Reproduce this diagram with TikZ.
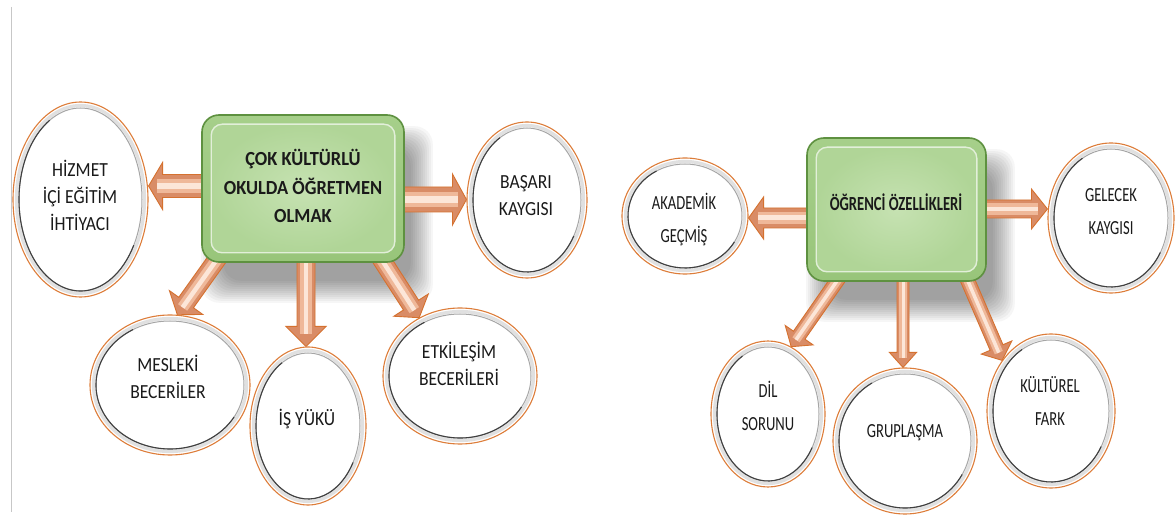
\documentclass[tikz,border=0pt]{standalone}
\usepackage{fontspec}
\newfontfamily\leftfont[FakeStretch=0.88]{Carlito}
\newfontfamily\leftboldfont[FakeStretch=0.92]{Carlito}
\newfontfamily\rightfont[FakeStretch=0.73]{Carlito}
\usetikzlibrary{calc,shapes.geometric}

\definecolor{bubbleedge}{HTML}{DD7D3A}
\definecolor{boxedge}{HTML}{5E9140}
\definecolor{boxtop}{HTML}{A6CF8A}
\definecolor{boxbottom}{HTML}{98C57A}
\definecolor{boxrim}{HTML}{E2EFD9}
\definecolor{boxin}{HTML}{C6E2B2}
\definecolor{boxout}{HTML}{B0D597}
\definecolor{arrowfill}{HTML}{D98C66}
\definecolor{arrowedge}{HTML}{D5712F}
\definecolor{arrowmid}{HTML}{EFB899}
\definecolor{arrowshine}{HTML}{FCE6D8}
\definecolor{inktext}{HTML}{1A1A1A}

\pgfdeclarelayer{paperlayer}
\pgfdeclarelayer{shadowlayer}
\pgfdeclarelayer{arrowlayer}
\pgfsetlayers{paperlayer,shadowlayer,arrowlayer,main}

\tikzset{
  bubble/.style={ellipse, draw=bubbleedge, line width=1.1pt, fill=white, inner sep=0pt},
  ringband/.style={draw=black!12, line width=3.2pt},
  ringlight/.style={draw=black!35, line width=1pt},
  ringdark/.style={draw=black!75, line width=1.1pt},
  boxouter/.style={rectangle, rounded corners=17pt, draw=boxedge, line width=1.6pt,
    top color=boxtop, bottom color=boxbottom, inner sep=0pt},
  boxface/.style={rounded corners=11pt, draw=boxrim, line width=1.4pt,
    inner color=boxin, outer color=boxout},
  shadowstep/.style={fill=black, fill opacity=0.035, rounded corners=18pt},
  arrowbody/.style={fill=arrowfill, draw=arrowedge, line width=0.9pt, line join=miter},
  ltxt/.style={align=center, text=inktext, inner sep=0pt,
    font=\leftfont\fontsize{20}{27}\selectfont},
  lbold/.style={align=center, text=inktext, inner sep=0pt,
    font=\leftboldfont\bfseries\fontsize{20}{28.5}\selectfont},
  rtxt/.style={align=center, text=inktext, inner sep=0pt,
    font=\rightfont\fontsize{20}{33}\selectfont},
  rbold/.style={align=center, text=inktext, inner sep=0pt,
    font=\rightfont\bfseries\fontsize{20}{33}\selectfont},
}

% soft drop shadow under a box: stacked translucent rounded rectangles
\newcommand\softshadow[1]{%
  \begin{pgfonlayer}{shadowlayer}
    \foreach \e in {14,12,...,-8}{%
      \path[shadowstep] ($(#1.south west)+(14-\e,26+\e)$) rectangle ($(#1.north east)+(14+\e,26-\e)$);
    }
  \end{pgfonlayer}
}

% oval with a bevelled grey ring inside its orange rim
\newcommand\bubble[5]{%
  \pgfmathsetmacro\bbW{2*#4}\pgfmathsetmacro\bbH{2*#5}%
  \node[bubble, minimum width=\bbW pt, minimum height=\bbH pt] (#1) at (#2,#3) {};
  \pgfmathsetmacro\bbA{#4-3.5}\pgfmathsetmacro\bbB{#5-3.5}%
  \draw[ringband] (#1.center) ellipse [x radius=\bbA pt, y radius=\bbB pt];
  \pgfmathsetmacro\bbC{#4-6}\pgfmathsetmacro\bbD{#5-6}%
  \draw[ringlight] (#1.center) ellipse [x radius=\bbC pt, y radius=\bbD pt];
  \draw[ringdark] (#1.center) ++(120:\bbC pt and \bbD pt)
    arc [start angle=120, end angle=330, x radius=\bbC pt, y radius=\bbD pt];
}

% block arrow: start, tip, shaft half width, head half width, head length
\newcommand\blockarrow[5]{%
  \coordinate (ba-b) at ($(#2)!#5pt!(#1)$);
  \coordinate (ba-m) at ($(ba-b)!0.4!(#2)$);
  \path[arrowbody] ($(#1)!#3pt!90:(#2)$) -- ($(ba-b)!#3pt!90:(#2)$)
    -- ($(ba-b)!#4pt!90:(#2)$) -- (#2) -- ($(ba-b)!#4pt!-90:(#2)$)
    -- ($(ba-b)!#3pt!-90:(#2)$) -- ($(#1)!#3pt!-90:(#2)$) -- cycle;
  \pgfmathsetmacro\baWa{1.25*#3}\pgfmathsetmacro\baWb{0.5*#3}%
  \draw[arrowmid, line width=\baWa pt] (#1) -- (ba-m);
  \draw[arrowshine, line width=\baWb pt] (#1) -- (ba-m);
}

\begin{document}
\begin{tikzpicture}[x=1pt, y=-1pt]
\useasboundingbox (0,0) rectangle (1176,526);
\begin{pgfonlayer}{paperlayer}
  \fill[white] (0,0) rectangle (1176,526);
\end{pgfonlayer}
\draw[black!22, line width=1pt] (11,7) -- (11,512);

% ---- first cluster ----
\node[boxouter, minimum width=202pt, minimum height=147pt] (lbox) at (303,188.5) {};
\softshadow{lbox}
\path[boxface] ($(lbox.south west)+(10,-10)$) rectangle ($(lbox.north east)+(-10,10)$);
\node[lbold] (lbox-t) at (303,186) {ÇOK KÜLTÜRLÜ\\OKULDA ÖĞRETMEN\\OLMAK};

\bubble{hizmet}{80.5}{199.5}{67.5}{97.5}
\bubble{basari}{527}{200}{60}{78}
\bubble{mesleki}{170}{385}{80}{70}
\bubble{isyuku}{308}{426}{58}{79}
\bubble{etk}{460}{376}{77}{68}

\node[ltxt] (hizmet-t) at (80,195) {HİZMET\\İÇİ EĞİTİM\\İHTİYACI};
\node[ltxt] (basari-t) at (526,196) {BAŞARI\\KAYGISI};
\node[ltxt] (mesleki-t) at (168,377) {MESLEKİ\\BECERİLER};
\node[ltxt] (isyuku-t) at (307,419) {İŞ YÜKÜ};
\node[ltxt] (etk-t) at (459,364) {ETKİLEŞİM\\BECERİLERİ};

% ---- second cluster ----
\node[boxouter, minimum width=179pt, minimum height=143pt] (rbox) at (896.5,209.5) {};
\softshadow{rbox}
\path[boxface] ($(rbox.south west)+(10,-10)$) rectangle ($(rbox.north east)+(-10,10)$);
\node[rbold] (rbox-t) at (896,202) {ÖĞRENCİ ÖZELLİKLERİ};

\bubble{akademik}{685}{216}{63}{58}
\bubble{gelecek}{1111}{218}{63}{75}
\bubble{dil}{768}{414}{57}{73}
\bubble{grup}{905}{441}{72}{73}
\bubble{kulturel}{1051}{411}{64}{77}

\node[rtxt] (akademik-t) at (684,220) {AKADEMİK\\GEÇMİŞ};
\node[rtxt] (gelecek-t) at (1111,211.5) {GELECEK\\KAYGISI};
\node[rtxt] (dil-t) at (768,406) {DİL\\SORUNU};
\node[rtxt] (grup-t) at (905,433) {GRUPLAŞMA};
\node[rtxt] (kulturel-t) at (1050,401) {KÜLTÜREL\\FARK};

% ---- connectors ----
\begin{pgfonlayer}{arrowlayer}
  \coordinate (a1s) at ($(lbox.west)+(8,-2.5)$);
  \coordinate (a1e) at (hizmet.east |- a1s);
  \blockarrow{a1s}{a1e}{11.5}{23.5}{14}
  \coordinate (a2s) at ($(lbox.east)+(-8,11)$);
  \coordinate (a2e) at (basari.west |- a2s);
  \blockarrow{a2s}{a2e}{12.5}{25.5}{14}
  \coordinate (a3s) at ($(lbox.south west)+(19,-8)$);
  \coordinate (a3e) at (mesleki.84);
  \blockarrow{a3s}{a3e}{9}{20.5}{15}
  \coordinate (a4s) at ($(lbox.south)+(3,-8)$);
  \coordinate (a4e) at (a4s |- isyuku.north);
  \blockarrow{a4s}{a4e}{9}{20}{20}
  \coordinate (a5s) at ($(lbox.south east)+(-26.5,-8.4)$);
  \coordinate (a5e) at (etk.125);
  \blockarrow{a5s}{a5e}{9}{20.5}{15}

  \coordinate (b1s) at ($(rbox.west)+(8,8.5)$);
  \coordinate (b1e) at (akademik.east |- b1s);
  \blockarrow{b1s}{b1e}{10}{21}{15}
  \coordinate (b2s) at ($(rbox.east)+(-8,-0.5)$);
  \coordinate (b2e) at (gelecek.west |- b2s);
  \blockarrow{b2s}{b2e}{9}{20}{16}
  \coordinate (b3s) at ($(rbox.south)+(-55.8,-6.2)$);
  \coordinate (b3e) at (dil.71);
  \blockarrow{b3s}{b3e}{7}{17}{14}
  \coordinate (b4s) at ($(rbox.south)+(6.5,-9)$);
  \coordinate (b4e) at (b4s |- grup.north);
  \blockarrow{b4s}{b4e}{6}{13.5}{15}
  \coordinate (b5s) at ($(rbox.south east)+(-22,-8)$);
  \coordinate (b5e) at (kulturel.134);
  \blockarrow{b5s}{b5e}{7}{16.6}{14}
\end{pgfonlayer}
\end{tikzpicture}
\end{document}
